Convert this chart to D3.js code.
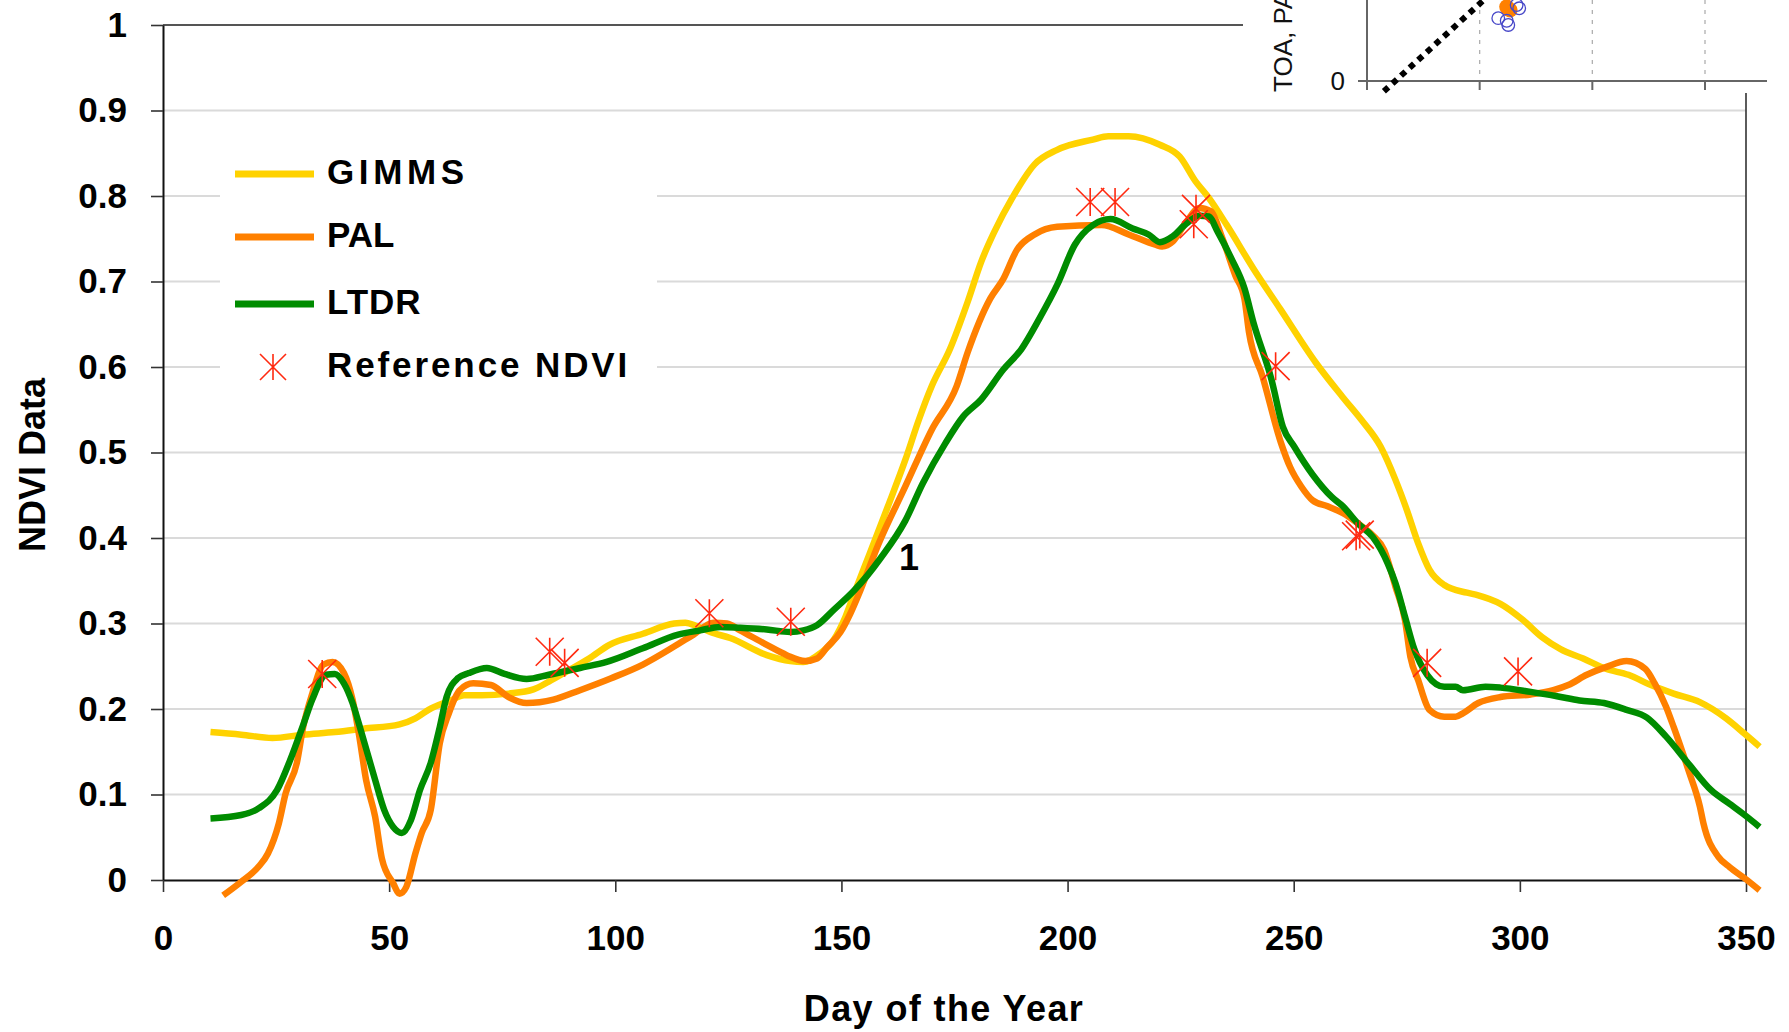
<!DOCTYPE html>
<html>
<head>
<meta charset="utf-8">
<script src="https://cdn.jsdelivr.net/npm/d3@7"></script>
<style>
  html, body { margin: 0; padding: 0; background: #fff; }
  svg { display: block; }
  text { font-family: "Liberation Sans", Arial, sans-serif; }
</style>
</head>
<body>
<svg id="chart" width="1789" height="1032"></svg>
<script>
// ---- data ----------------------------------------------------------
const yTicks = [0, 0.1, 0.2, 0.3, 0.4, 0.5, 0.6, 0.7, 0.8, 0.9, 1];
const yTickLabels = ["0", "0.1", "0.2", "0.3", "0.4", "0.5", "0.6", "0.7", "0.8", "0.9", "1"];
const xTicks = [0, 50, 100, 150, 200, 250, 300, 350];
const xTickLabels = ["0", "50", "100", "150", "200", "250", "300", "350"];

const seriesNames = ["GIMMS", "PAL", "LTDR", "Reference NDVI"];

// [day of year, NDVI]
const gimms = [
  [10.5,0.173],[17.3,0.170],[24.2,0.166],[31,0.170],[38,0.173],[44.4,0.177],[52.3,0.182],
  [55.8,0.189],[58.7,0.199],[63.6,0.210],[66.6,0.216],[70.5,0.216],[76.4,0.218],[81.9,0.223],
  [85.3,0.232],[89.3,0.244],[94.2,0.259],[98.7,0.275],[106.1,0.288],[113,0.300],[115.5,0.301],
  [118,0.297],[121,0.290],[125.4,0.283],[133.5,0.263],[138.7,0.256],[141.6,0.255],[145.3,0.265],
  [148.3,0.281],[150.9,0.308],[153.1,0.339],[156.2,0.381],[160.2,0.436],[164.1,0.491],
  [167.1,0.538],[170,0.578],[174,0.621],[177.9,0.676],[180.9,0.723],[183.8,0.758],[187.8,0.798],
  [192.7,0.837],[197.7,0.854],[205.6,0.866],[209,0.870],[213.5,0.870],[220.4,0.860],[224.8,0.846],
  [228.3,0.817],[231.2,0.798],[235.2,0.766],[241.1,0.715],[247,0.668],[254.9,0.605],[260.8,0.565],
  [265,0.538],[269.2,0.507],[272.5,0.468],[275,0.433],[277.5,0.394],[280,0.363],[283.3,0.345],
  [288.3,0.336],[290.8,0.333],[295.7,0.323],[300.7,0.304],[304.9,0.284],[309,0.270],[314,0.259],
  [319,0.247],[324,0.240],[329,0.228],[334,0.218],[339.8,0.208],[345.6,0.189],[349.7,0.171],
  [353,0.156]
];

const pal = [
  [13.3,-0.018],[17.3,-0.002],[21.2,0.016],[23.2,0.031],[25.6,0.066],[27.1,0.101],[29.6,0.137],
  [31,0.179],[33,0.218],[35.5,0.252],[37.5,0.255],[40,0.242],[41.9,0.211],[43.4,0.168],
  [44.9,0.117],[46.9,0.074],[48.4,0.025],[50.9,-0.004],[52.3,-0.016],[53.8,-0.008],[55.8,0.031],
  [57.2,0.055],[59.2,0.082],[61.2,0.160],[63.2,0.195],[65.6,0.222],[68.6,0.230],[72.5,0.228],
  [76.4,0.214],[80.4,0.207],[86.3,0.211],[92.2,0.222],[99.1,0.236],[106.1,0.252],[113,0.273],
  [117.3,0.287],[121.7,0.301],[124.7,0.300],[127.6,0.292],[133.5,0.275],[137.9,0.263],
  [142,0.256],[144.6,0.259],[146.8,0.272],[149.8,0.290],[152,0.312],[154.2,0.339],[158.2,0.393],
  [164.1,0.460],[170,0.527],[175.5,0.578],[177.9,0.617],[182.9,0.680],[185.8,0.703],
  [188.8,0.737],[192.7,0.755],[197.7,0.764],[207.5,0.766],[213.5,0.755],[219.4,0.743],
  [220.9,0.741],[223.3,0.747],[226.3,0.770],[229.2,0.786],[231.7,0.782],[234.2,0.751],
  [237.1,0.707],[239.1,0.680],[240.1,0.641],[243.1,0.589],[247.2,0.511],[249.2,0.483],
  [251.7,0.460],[254.2,0.444],[257.5,0.437],[260.9,0.429],[264.2,0.417],[267.5,0.403],
  [270,0.386],[272.5,0.343],[274.6,0.304],[275.8,0.261],[277.5,0.234],[280,0.199],[283.3,0.191],
  [285.8,0.191],[287.4,0.195],[290.8,0.207],[295.7,0.214],[302.4,0.217],[307.4,0.222],
  [310.7,0.228],[314.8,0.240],[319,0.249],[323.6,0.256],[327.7,0.247],[329.8,0.230],
  [332.3,0.203],[334,0.179],[337.3,0.128],[339.8,0.086],[340.6,0.066],[343.9,0.027],
  [346.4,0.015],[349.7,0.002],[353,-0.012]
];

const ltdr = [
  [10.5,0.072],[17.3,0.076],[21.2,0.084],[25.2,0.105],[28.1,0.140],[31.1,0.183],[33,0.211],
  [36,0.240],[38,0.241],[40,0.230],[41.9,0.207],[43.9,0.172],[46.9,0.117],[48.9,0.082],
  [50.9,0.062],[52.8,0.055],[54.8,0.070],[56.8,0.105],[59.2,0.137],[61.2,0.179],[62.7,0.214],
  [65.2,0.236],[67.6,0.242],[71.6,0.248],[75.5,0.241],[80.4,0.235],[85.3,0.240],[92.2,0.248],
  [98.1,0.255],[106.1,0.271],[113.9,0.287],[118.8,0.292],[123.2,0.296],[127.6,0.295],
  [133.5,0.293],[138.7,0.290],[141.6,0.292],[144.6,0.298],[148.3,0.316],[152.7,0.338],
  [155.7,0.356],[158.6,0.376],[164.1,0.420],[168,0.464],[173,0.511],[176.9,0.542],[180.9,0.562],
  [185.8,0.597],[189.8,0.621],[193.7,0.656],[197.7,0.696],[201.6,0.743],[205.6,0.766],
  [209.5,0.773],[214.4,0.762],[217.9,0.755],[220.4,0.746],[223.3,0.753],[226.3,0.768],
  [229.2,0.777],[231.2,0.776],[233.2,0.758],[236.2,0.727],[239.1,0.692],[241.1,0.652],
  [245.1,0.585],[247.6,0.530],[250.1,0.507],[254.2,0.474],[258.4,0.448],[260.9,0.437],
  [264.2,0.417],[267.5,0.401],[270.8,0.370],[272.5,0.347],[274.6,0.308],[276.6,0.271],
  [279.5,0.240],[283.3,0.226],[285.8,0.226],[287.4,0.222],[292.4,0.226],[295.7,0.225],
  [302.4,0.220],[308.2,0.215],[313.2,0.210],[318.6,0.207],[323.6,0.199],[328.1,0.190],
  [332.3,0.168],[337.3,0.136],[342.3,0.105],[346.4,0.089],[349.7,0.076],[353,0.062]
];

const referenceNdvi = [
  [35.2,0.241],[85.5,0.267],[88.8,0.254],[120.8,0.312],[138.8,0.302],[205,0.793],[210.5,0.793],
  [228.4,0.785],[227.9,0.767],[246,0.601],[263.8,0.402],[264.6,0.404],[279.5,0.254],[299.6,0.244]
];

// small scatter panel in the upper right corner
const insetXTicks = [0, 0.1, 0.2, 0.3];
const insetYTicks = [0];
const insetYTickLabels = ["0"];
const insetFitLine = [[0.015,-0.010],[0.112,0.087]];
const insetFilled = [[0.124,0.072],[0.127,0.069]];
const insetOpen = [[0.1165,0.061],[0.124,0.0585],[0.1254,0.0544],[0.1328,0.0738],[0.1351,0.0706]];

// ---- drawing -------------------------------------------------------
const svg = d3.select("#chart");
const x = d3.scaleLinear().domain([0, 350]).range([163, 1746]);
const y = d3.scaleLinear().domain([0, 1]).range([880, 25]);

const colors = { "GIMMS": "#FFD200", "PAL": "#FF8000", "LTDR": "#008C00", "Reference NDVI": "#FF2A10" };
const FONT = '"Liberation Sans", Arial, sans-serif';

// horizontal gridlines
svg.append("g").selectAll("line")
  .data(yTicks.filter(v => v > 0 && v < 1))
  .join("line")
  .attr("x1", x(0)).attr("x2", x(350))
  .attr("y1", d => y(d)).attr("y2", d => y(d))
  .attr("stroke", "#DADADA").attr("stroke-width", 2.2);

// plot frame: top edge and right edge
svg.append("line").attr("x1", x(0)).attr("x2", 1243).attr("y1", y(1)).attr("y2", y(1))
  .attr("stroke", "#555").attr("stroke-width", 2);
svg.append("line").attr("x1", x(350)).attr("x2", x(350)).attr("y1", 93).attr("y2", y(0))
  .attr("stroke", "#333").attr("stroke-width", 1.6);

// axes
const yAxis = d3.axisLeft(y).tickValues(yTicks).tickSize(12).tickSizeOuter(0).tickPadding(24)
  .tickFormat((d, i) => yTickLabels[i]);
const xAxis = d3.axisBottom(x).tickValues(xTicks).tickSize(12).tickSizeOuter(0).tickPadding(33)
  .tickFormat((d, i) => xTickLabels[i]);

function styleAxis(g) {
  g.select(".domain").attr("stroke", "#111").attr("stroke-width", 2);
  g.selectAll(".tick line").attr("stroke", "#333").attr("stroke-width", 1.6);
  g.selectAll(".tick text").attr("fill", "#000").attr("font-family", FONT)
    .attr("font-weight", "bold").attr("font-size", 35);
}
svg.append("g").attr("transform", `translate(${x(0)},0)`).call(yAxis).call(styleAxis);
svg.append("g").attr("transform", `translate(0,${y(0)})`).call(xAxis).call(styleAxis);

// legend box (masks the gridlines behind it)
svg.append("rect").attr("x", 220).attr("y", 128).attr("width", 437).attr("height", 272)
  .attr("fill", "#fff");

// series lines
const line = d3.line().x(d => x(d[0])).y(d => y(d[1])).curve(d3.curveMonotoneX);
const lineSeries = [["GIMMS", gimms], ["PAL", pal], ["LTDR", ltdr]];
svg.append("g").selectAll("path")
  .data(lineSeries)
  .join("path")
  .attr("d", d => line(d[1]))
  .attr("fill", "none")
  .attr("stroke", d => colors[d[0]])
  .attr("stroke-width", 6.5)
  .attr("stroke-linejoin", "round")
  .attr("stroke-linecap", "butt");

// asterisk marker
function asterisk(s) {
  return `M${-s},${-s}L${s},${s}M${-s},${s}L${s},${-s}M0,${-s}L0,${s}`;
}
svg.append("g").selectAll("path")
  .data(referenceNdvi)
  .join("path")
  .attr("transform", d => `translate(${x(d[0])},${y(d[1])})`)
  .attr("d", asterisk(14))
  .attr("fill", "none")
  .attr("stroke", colors["Reference NDVI"])
  .attr("stroke-width", 1.6);

// legend entries
const legendStyle = {
  "GIMMS": { y: 174, spacing: 4.6, kind: "line" },
  "PAL": { y: 237, spacing: 0, kind: "line" },
  "LTDR": { y: 304, spacing: 0.9, kind: "line" },
  "Reference NDVI": { y: 367, spacing: 2.9, kind: "marker" }
};
const lg = svg.append("g");
seriesNames.forEach(name => {
  const st = legendStyle[name];
  if (st.kind === "line") {
    lg.append("line").attr("x1", 235).attr("x2", 314).attr("y1", st.y).attr("y2", st.y)
      .attr("stroke", colors[name]).attr("stroke-width", 7);
  } else {
    lg.append("path").attr("transform", `translate(273,${st.y})`).attr("d", asterisk(13))
      .attr("fill", "none").attr("stroke", colors[name]).attr("stroke-width", 1.6);
  }
  lg.append("text").attr("x", 327).attr("y", st.y + 10)
    .attr("font-family", FONT).attr("font-weight", "bold").attr("font-size", 35)
    .attr("letter-spacing", st.spacing).attr("fill", "#000")
    .text(name);
});

// axis titles and annotation
svg.append("text").attr("transform", `translate(45,465) rotate(-90)`)
  .attr("text-anchor", "middle").attr("font-family", FONT).attr("font-weight", "bold")
  .attr("font-size", 36).text("NDVI Data");
svg.append("text").attr("x", 944).attr("y", 1021).attr("text-anchor", "middle")
  .attr("font-family", FONT).attr("font-weight", "bold").attr("font-size", 36)
  .attr("letter-spacing", 1.4).text("Day of the Year");
svg.append("text").attr("x", 909).attr("y", 570).attr("text-anchor", "middle")
  .attr("font-family", FONT).attr("font-weight", "bold").attr("font-size", 36).text("1");

// ---- scatter panel, upper right ----
const ix = d3.scaleLinear().domain([0, 0.3]).range([1367, 1705]);
const iy = d3.scaleLinear().domain([0, 0.1]).range([81, -22]);
const inset = svg.append("g");
inset.append("rect").attr("x", 1244).attr("y", 0).attr("width", 545).attr("height", 92).attr("fill", "#fff");
inset.selectAll("line.grid").data(insetXTicks.filter(v => v > 0)).join("line")
  .attr("class", "grid")
  .attr("x1", d => ix(d)).attr("x2", d => ix(d)).attr("y1", 0).attr("y2", iy(0))
  .attr("stroke", "#B0B0B0").attr("stroke-width", 1.3).attr("stroke-dasharray", "4 6");
inset.append("line").attr("x1", ix(0)).attr("x2", ix(0)).attr("y1", 0).attr("y2", iy(0) + 9)
  .attr("stroke", "#666").attr("stroke-width", 2);
inset.append("line").attr("x1", ix(0) - 9).attr("x2", 1767).attr("y1", iy(0)).attr("y2", iy(0))
  .attr("stroke", "#666").attr("stroke-width", 2);
inset.selectAll("line.tick").data(insetXTicks.filter(v => v > 0)).join("line")
  .attr("class", "tick")
  .attr("x1", d => ix(d)).attr("x2", d => ix(d)).attr("y1", iy(0)).attr("y2", iy(0) + 9)
  .attr("stroke", "#666").attr("stroke-width", 2);
inset.selectAll("text.ylab").data(insetYTicks).join("text")
  .attr("class", "ylab")
  .attr("x", 1345).attr("y", d => iy(d) + 9).attr("text-anchor", "end")
  .attr("font-family", FONT).attr("font-size", 26).attr("fill", "#111")
  .text((d, i) => insetYTickLabels[i]);
inset.append("text").attr("transform", "translate(1292,92) rotate(-90)")
  .attr("font-family", FONT).attr("font-size", 26).attr("fill", "#111")
  .text("TOA, PAL");
inset.append("path")
  .attr("d", d3.line().x(d => ix(d[0])).y(d => iy(d[1]))(insetFitLine))
  .attr("stroke", "#000").attr("stroke-width", 6).attr("stroke-dasharray", "6 5.6")
  .attr("fill", "none");
inset.selectAll("circle.filled").data(insetFilled).join("circle")
  .attr("class", "filled")
  .attr("cx", d => ix(d[0])).attr("cy", d => iy(d[1])).attr("r", 7.5)
  .attr("fill", "#FF8000");
inset.selectAll("circle.open").data(insetOpen).join("circle")
  .attr("class", "open")
  .attr("cx", d => ix(d[0])).attr("cy", d => iy(d[1])).attr("r", 6.3)
  .attr("fill", "none").attr("stroke", "#4848C8").attr("stroke-width", 1.3);
</script>
</body>
</html>
